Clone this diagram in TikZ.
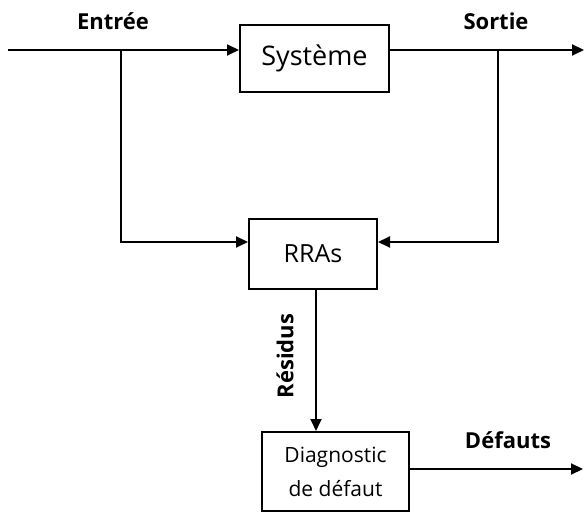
\documentclass[tikz,border=0pt]{standalone}
\usepackage{fontspec}
\setmainfont{Open Sans}
\usetikzlibrary{arrows.meta}
\begin{document}
\begin{tikzpicture}[x=1pt,y=-1pt,
  blk/.style={draw,line width=2pt,inner sep=0pt,anchor=north west},
  conn/.style={line width=2pt,-{Triangle[length=12pt,width=11pt]}},
  lbl/.style={font=\fontsize{22}{26}\selectfont\bfseries}]
\useasboundingbox (0,0) rectangle (586,513);
\node[blk,minimum width=149pt,minimum height=67pt,font=\fontsize{27}{32}\selectfont] (sys) at (239,24) {Système};
\node[blk,minimum width=128pt,minimum height=70pt,font=\fontsize{25}{30}\selectfont] (rra) at (248,218) {RRAs};
\node[blk,minimum width=147pt,minimum height=79pt,align=center,font=\fontsize{21}{34}\selectfont] (diag) at (261,431) {Diagnostic\\ de défaut};
\coordinate (in) at (8,50);
\coordinate (out) at (584,50);
\coordinate (bl) at (121,50);
\coordinate (br) at (498,50);
\coordinate (dout) at (583,469);
\node[lbl] (ent) at (113,21) {Entrée};
\node[lbl] (sor) at (496,21) {Sortie};
\node[lbl] (def) at (508,440) {Défauts};
\node[lbl,rotate=90] (res) at (285,356) {Résidus};
\draw[conn] (in) -- (sys.west |- in);
\draw[conn] (sys.east |- out) -- (out);
\draw[conn] (bl) |- (rra.west |- 0,242);
\draw[conn] (br) |- (rra.east |- 0,242);
\draw[conn] (rra.south -| 316,0) -- (diag.north -| 316,0);
\draw[conn] (diag.east |- dout) -- (dout);
\end{tikzpicture}
\end{document}
